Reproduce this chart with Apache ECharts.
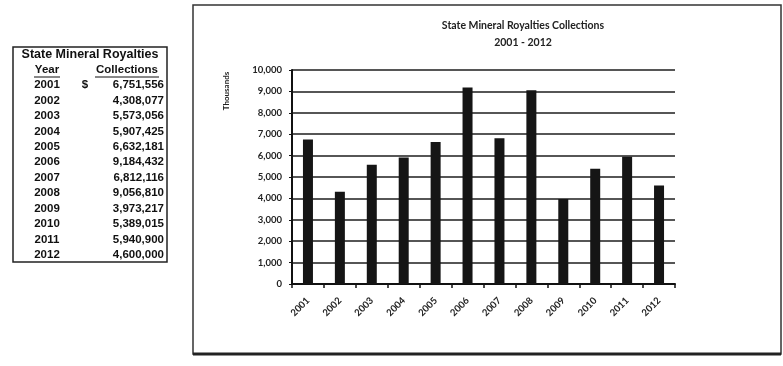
<!DOCTYPE html>
<html>
<head>
<meta charset="utf-8">
<script src="https://cdn.jsdelivr.net/npm/echarts@6/dist/echarts.min.js"></script>
<style>
  html, body { margin: 0; padding: 0; background: #fff; }
  #main { width: 783px; height: 366px; }
</style>
</head>
<body>
<div id="main"></div>
<script>
var years = ['2001', '2002', '2003', '2004', '2005', '2006', '2007', '2008', '2009', '2010', '2011', '2012'];
var collections = [6751556, 4308077, 5573056, 5907425, 6632181, 9184432, 6812116, 9056810, 3973217, 5389015, 5940900, 4600000];
var yTicks = [0, 1000, 2000, 3000, 4000, 5000, 6000, 7000, 8000, 9000, 10000];

var myChart = echarts.init(document.getElementById('main'));

// bars are drawn in thousands
var thousands = collections.map(function (v) { return v / 1000; });

function fmt(n) {
    return n.toString().replace(/\B(?=(\d{3})+(?!\d))/g, ',');
}

// the little table on the left
var tableFont = 'bold 11.5px "Liberation Sans", Arial, sans-serif';
var graphics = [
    { type: 'rect', shape: { x: 13, y: 47, width: 154, height: 215 },
      style: { fill: '#fff', stroke: '#222', lineWidth: 1.5 } },
    { type: 'text', x: 90, y: 55, style: { text: 'State Mineral Royalties', font: 'bold 12.5px "Liberation Sans", Arial, sans-serif', fill: '#111', align: 'center', verticalAlign: 'middle' } },
    { type: 'text', x: 47, y: 70, style: { text: 'Year', font: tableFont, fill: '#111', align: 'center', verticalAlign: 'middle' } },
    { type: 'line', shape: { x1: 34, y1: 77, x2: 60, y2: 77 }, style: { stroke: '#111', lineWidth: 1 } },
    { type: 'text', x: 127, y: 70, style: { text: 'Collections', font: tableFont, fill: '#111', align: 'center', verticalAlign: 'middle' } },
    { type: 'line', shape: { x1: 95, y1: 77, x2: 159, y2: 77 }, style: { stroke: '#111', lineWidth: 1 } },
    // chart frame
    { type: 'rect', shape: { x: 193, y: 5, width: 588, height: 349 },
      style: { fill: 'none', stroke: '#333', lineWidth: 1.5 } },
    { type: 'line', shape: { x1: 193, y1: 354, x2: 781, y2: 354 }, style: { stroke: '#222', lineWidth: 3 } },
    { type: 'text', x: 226, y: 91, rotation: Math.PI / 2,
      style: { text: 'Thousands', font: 'bold 8px Lato, sans-serif', fill: '#222', align: 'center', verticalAlign: 'middle' } }
];
years.forEach(function (y, i) {
    var ty = 85 + i * 15.45;
    graphics.push({ type: 'text', x: 47, y: ty, style: { text: y, font: tableFont, fill: '#111', align: 'center', verticalAlign: 'middle' } });
    graphics.push({ type: 'text', x: 164, y: ty, style: { text: fmt(collections[i]), font: tableFont, fill: '#111', align: 'right', verticalAlign: 'middle' } });
    if (i === 0) {
        graphics.push({ type: 'text', x: 85, y: ty, style: { text: '$', font: tableFont, fill: '#111', align: 'center', verticalAlign: 'middle' } });
    }
});

option = {
    backgroundColor: '#fff',
    animation: false,
    title: {
        text: 'State Mineral Royalties Collections\n2001 - 2012',
        left: 518,
        top: 12,
        textAlign: 'center',
        textStyle: {
            fontFamily: 'Lato, sans-serif',
            fontSize: 10.5,
            fontWeight: 'bold',
            color: '#222',
            lineHeight: 17
        }
    },
    grid: { left: 292, right: 108, top: 70, bottom: 82, containLabel: false },
    xAxis: {
        type: 'category',
        data: years,
        axisLine: { lineStyle: { color: '#111', width: 2 } },
        axisTick: { show: true, length: 4, inside: false, lineStyle: { color: '#111', width: 1.5 } },
        axisLabel: {
            rotate: 45,
            fontFamily: 'Lato, sans-serif',
            fontSize: 9.5,
            fontWeight: 'bold',
            color: '#222',
            margin: 15
        }
    },
    yAxis: {
        type: 'value',
        min: 0,
        max: 10000,
        interval: 1000,
        axisLine: { show: true, lineStyle: { color: '#111', width: 2 } },
        axisTick: { show: true, length: 3, lineStyle: { color: '#111' } },
        splitLine: { lineStyle: { color: '#1e1e1e', width: 1.6 } },
        axisLabel: {
            fontFamily: 'Lato, sans-serif',
            fontSize: 9.5,
            fontWeight: 'bold',
            color: '#222',
            margin: 10,
            formatter: function (v) { return yTicks.indexOf(v) >= 0 ? fmt(v) : ''; }
        }
    },
    series: [{
        type: 'bar',
        data: thousands,
        barWidth: 10,
        itemStyle: { color: '#151515' }
    }],
    graphic: graphics
};

myChart.setOption(option);
</script>
</body>
</html>
